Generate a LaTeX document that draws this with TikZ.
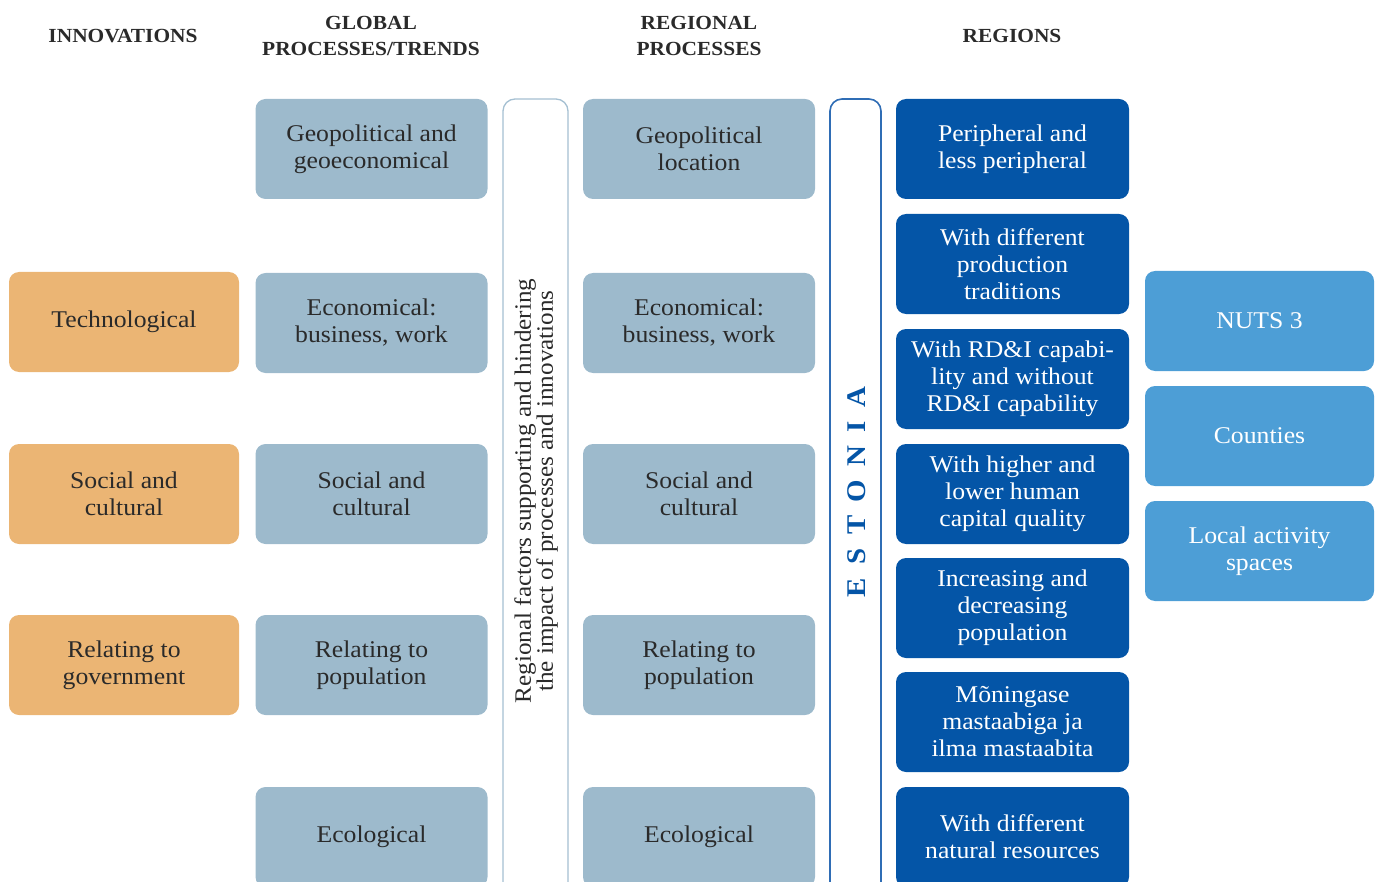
\documentclass[tikz,border=0pt]{standalone}
\usepackage{fontspec}
\setmainfont{Liberation Serif}[FakeStretch=1.07]
\begin{document}
\definecolor{innov}{HTML}{EBB574}
\definecolor{proc}{HTML}{9DBACC}
\definecolor{region}{HTML}{0455A7}
\definecolor{admin}{HTML}{4D9ED6}
\definecolor{ink}{HTML}{2A2A2A}
\definecolor{factorline}{HTML}{A5C0D2}
\definecolor{estline}{HTML}{2F6DB5}
\begin{tikzpicture}[x=1pt,y=-1pt,
  box/.style={rounded corners=10pt, minimum height=100pt, align=center,
    font=\fontsize{24}{27}\selectfont, inner sep=0pt},
  innovbox/.style={box, fill=innov, text=ink, minimum width=230pt},
  procbox/.style={box, fill=proc, text=ink, minimum width=232pt},
  regionbox/.style={box, fill=region, text=white, minimum width=233pt},
  adminbox/.style={box, fill=admin, text=white, minimum width=229pt},
  head/.style={font=\fontsize{20}{26}\selectfont\bfseries, text=ink, align=center},
  frame/.style={rounded corners=12pt, fill=white}
]
\useasboundingbox (0,0) rectangle (1380,882);
\clip (0,0) rectangle (1380,882);

% column headings
\node[head] (h1) at (123,36) {INNOVATIONS};
\node[head] (h2) at (371,36) {GLOBAL\\PROCESSES/TRENDS};
\node[head] (h3) at (699,36) {REGIONAL\\PROCESSES};
\node[head] (h4) at (1012,36) {REGIONS};

% innovations
\node[innovbox] (i1) at (124,322) {Technological};
\node[innovbox] (i2) at (124,494) {Social and\\cultural};
\node[innovbox] (i3) at (124,665) {Relating to\\government};

% global processes
\node[procbox] (g1) at (371.5,149) {Geopolitical and\\geoeconomical};
\node[procbox] (g2) at (371.5,323) {Economical:\\business, work};
\node[procbox] (g3) at (371.5,494) {Social and\\cultural};
\node[procbox] (g4) at (371.5,665) {Relating to\\population};
\node[procbox] (g5) at (371.5,837) {Ecological};

% regional factors frame
\draw[frame, draw=factorline, line width=1.3pt] (503,99) rectangle (568,900);
\node[rotate=90, align=center, text=ink, font=\fontsize{23.5}{22}\selectfont] (rf) at (536,491)
  {Regional factors supporting and hindering\\the impact of processes and innovations};

% regional processes
\node[procbox] (r1) at (699,149) {Geopolitical\\location};
\node[procbox] (r2) at (699,323) {Economical:\\business, work};
\node[procbox] (r3) at (699,494) {Social and\\cultural};
\node[procbox] (r4) at (699,665) {Relating to\\population};
\node[procbox] (r5) at (699,837) {Ecological};

% Estonia frame
\draw[frame, draw=estline, line width=1.6pt] (830,99) rectangle (881,900);
\node[rotate=90, text=region, font=\fontsize{27}{30}\selectfont\bfseries\addfontfeatures{LetterSpace=50}] (est) at (857,492) {ESTONIA};

% regions
\node[regionbox] (d1) at (1012.5,149) {Peripheral and\\less peripheral};
\node[regionbox] (d2) at (1012.5,264) {With different\\production\\traditions};
\node[regionbox] (d3) at (1012.5,379) {With RD\&I capabi-\\lity and without\\RD\&I capability};
\node[regionbox] (d4) at (1012.5,494) {With higher and\\lower human\\capital quality};
\node[regionbox] (d5) at (1012.5,608) {Increasing and\\decreasing\\population};
\node[regionbox] (d6) at (1012.5,722) {Mõningase\\mastaabiga ja\\ilma mastaabita};
\node[regionbox] (d7) at (1012.5,837) {With different\\natural resources};

% administrative levels
\node[adminbox] (a1) at (1259.5,321) {NUTS 3};
\node[adminbox] (a2) at (1259.5,436) {Counties};
\node[adminbox] (a3) at (1259.5,551) {Local activity\\spaces};
\end{tikzpicture}
\end{document}
